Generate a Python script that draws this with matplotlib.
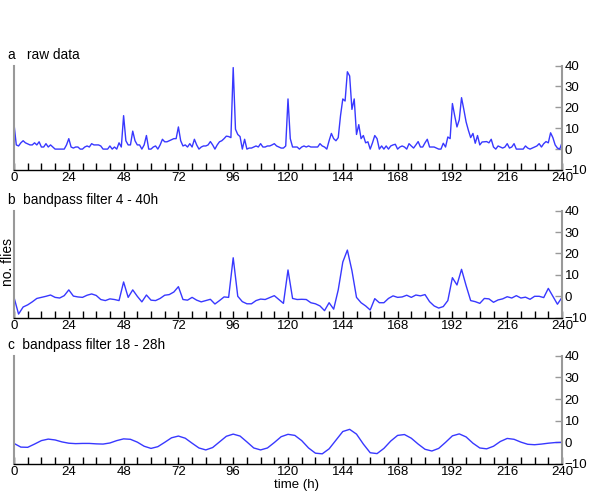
import matplotlib
matplotlib.use("Agg")
import matplotlib.pyplot as plt
import numpy as np

plt.rcParams['font.family'] = ['Liberation Sans', 'DejaVu Sans']

# raw counts, hourly, 0..240 h
raw_counts = [
    12, 2, 1.5, 3, 4, 3, 2.5, 2, 2, 3, 2, 3.5, 1, 1, 2.6, 1, 2, 1, 0, 0,
    0, 0, 0, 2, 5, 1, 0.5, 1, 1, 0, 0, 1, 1.5, 1, 2.6, 2, 2, 2, 1.5, 0,
    0, 0, 1.5, 0, 1, 0, 3, 1, 16, 4, 2, 2, 8.6, 4, 2, 2, 0, 2, 6.5, 0,
    0, 1, 1.5, 0, 2, 4.7, 3.5, 3.5, 4, 4.5, 5, 5, 10.6, 4, 1.5, 2, 1, 2.6, 1, 4.7,
    2, 0, 1, 1.5, 1.5, 2, 3.6, 2, 0, 2, 3.5, 4, 5, 6.2, 6, 5.5, 39, 9.5, 7, 6,
    0, 4.7, 0, 0.5, 0.5, 1, 1.5, 1, 2.6, 1, 1, 1.5, 1.5, 2, 2.6, 1.5, 1, 0.5, 0.5, 1.5,
    24, 5, 1, 1, 1, 0, 1, 1.5, 1, 1.5, 1, 1, 1, 1, 2.6, 1.5, 1, 0, 4, 7.5,
    5, 4, 5.5, 16, 24, 23, 37, 35, 19, 24, 7, 11.7, 5, 6.5, 3, 3.5, 0, 3, 6.5, 5,
    0, 1.5, 0, 1.5, 0, 1.5, 2, 2.3, 0, 1, 1.5, 1, 0, 2.6, 1.5, 0.5, 2, 3.6, 1, 1,
    3, 4.7, 1, 1, 1, 0.5, 0, 0, 2.8, 1, 5.8, 5, 21.8, 16, 10.6, 14, 24.6, 19, 13, 9,
    5.5, 7.5, 2.8, 6.5, 2, 3.4, 3.5, 3.6, 3, 4.7, 1, 0, 1.5, 1, 0.5, 1, 2.6, 0.5, 1, 2.6,
    0, 0, 0, 0, 1.5, 0.5, 0, 0.5, 1, 1.5, 2.6, 1, 2.6, 3.6, 3, 7.8, 5.5, 2, 0.5, 0,
    3,
]
raw_hours = list(range(len(raw_counts)))

# bandpass 4 - 40 h, every 2 h
band_4_40 = [
    -0.5, -8.3, -5, -4, -2.6, -1, -0.5, 0, 0.6, -0.5, -0.8, 0.3, 3, 0.1, -0.3, -0.5,
    0.5, 1.1, 0.4, -1.5, -2, -1.2, -1.5, -2, 6.7, -0.5, 3, 0, -2.6, 0.6, -1.8, -2,
    -1, 0.5, 0.8, 2, 4.5, -1.5, -1.8, -0.5, -1.8, -2.6, -2, -1.4, -3.6, -2, -0.3, -0.5,
    18, 0, -2.5, -3.5, -3.5, -2, -1.3, -1.5, -0.6, 0.3, -1.5, -3.3, 12.3, -1, -1.5, -1.4,
    -1.5, -3, -3.5, -4.5, -6.7, -3, -6, 3, 16, 21.6, 12, -0.5, -3, -4.5, -6.4, -1.1,
    -3, -3, -1, 0.2, -0.5, -0.3, 0.5, -0.5, 0.6, 0.2, 0.8, -2.5, -4.5, -5.5, -4.8, -2,
    8.7, 5.3, 12.6, 5, -2, -2.5, -3.3, -1, -1.2, -2.8, -1.7, -1.2, -0.2, -0.8, 0.3, -0.8,
    -0.4, -1.4, 0, 0, -0.6, 3.7, 0, -3.7, -0.5,
]
band_4_40_hours = list(range(0, 241, 2))

# bandpass 18 - 28 h, every 3 h
band_18_28 = [
    -0.5, -2.2, -2.3, -0.8, 0.8, 1.5, 1.1, 0.2, -0.4, -0.6, -0.5, -0.5, -0.7, -0.8,
    -0.3, 0.8, 1.6, 1.4, 0.1, -1.8, -2.8, -2.0, 0.0, 2.1, 2.9, 1.9, -0.4, -2.6, -3.5,
    -2.4, 0.2, 2.8, 3.8, 2.9, 0.2, -2.6, -3.5, -2.6, -0.1, 2.6, 3.7, 3.2, 0.8, -2.6,
    -5.0, -5.3, -3.0, 1.0, 5.0, 6.0, 3.8, -0.8, -4.8, -5.2, -2.8, 0.6, 3.2, 3.6, 1.9,
    -0.8, -3.2, -4.0, -2.8, 0.0, 3.0, 3.9, 2.5, -0.4, -2.6, -3.0, -1.8, 0.4, 1.8, 1.4,
    0.1, -0.9, -1.1, -0.8, -0.4, -0.1, 0,
]
band_18_28_hours = list(range(0, 241, 3))

titles = ["a   raw data", "b  bandpass filter 4 - 40h", "c  bandpass filter 18 - 28h"]
series = [(raw_hours, raw_counts), (band_4_40_hours, band_4_40), (band_18_28_hours, band_18_28)]

fig = plt.figure(figsize=(6, 4.93), dpi=100)
W, H = 600, 493
# (top_px, bottom_px) of each panel
panel_px = [(65.5, 170), (210.7, 317.7), (355.7, 464)]
line_color = "#3838ff"
grey = "#999999"

for (top, bot), (hx, hy), title in zip(panel_px, series, titles):
    ax = fig.add_axes([14 / W, 1 - bot / H, 548 / W, (bot - top) / H])
    ax.plot(hx, hy, color=line_color, lw=1.0)
    ax.set_xlim(0, 240)
    ax.set_ylim(-10, 40)
    ax.spines['top'].set_visible(False)
    ax.spines['left'].set_color(grey)
    ax.spines['right'].set_color(grey)
    ax.spines['left'].set_linewidth(1.5)
    ax.spines['right'].set_linewidth(1.5)
    ax.spines['bottom'].set_linewidth(1.0)
    ax.set_xticks(range(0, 241, 24))
    ax.set_xticks(range(0, 241, 6), minor=True)
    ax.tick_params(axis='x', which='both', direction='in', length=5, width=1,
                   labelsize=9.5, pad=1.5)
    ax.yaxis.tick_right()
    ax.set_yticks(range(-10, 41, 10))
    ax.tick_params(axis='y', direction='in', length=5, width=1, color=grey,
                   labelsize=9.5, pad=2)
    fig.text(8 / W, 1 - (top - 7) / H, title, fontsize=9.8, ha='left', va='baseline')

fig.text(8 / W, 1 - 262 / H, "no. flies", rotation=90, fontsize=10, ha='center', va='center')
fig.text(296 / W, 1 - 485 / H, "time (h)", fontsize=9.5, ha='center', va='center')

fig.savefig("out.png", dpi=100)
